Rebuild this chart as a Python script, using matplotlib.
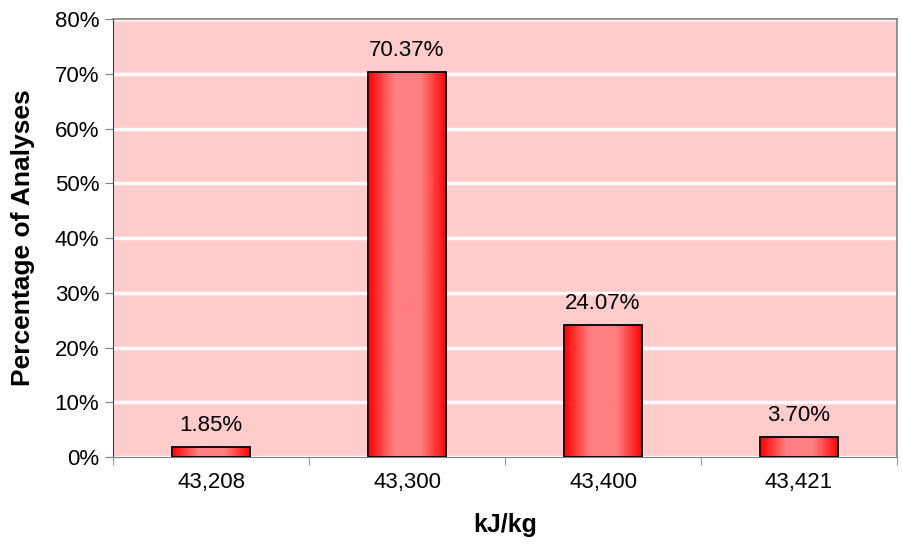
import matplotlib.pyplot as plt
import numpy as np
from matplotlib.colors import LinearSegmentedColormap
from matplotlib.patches import Rectangle

plt.rcParams['font.family'] = ['Liberation Sans', 'DejaVu Sans']

# data
categories = ["43,208", "43,300", "43,400", "43,421"]
values = [1.85, 70.37, 24.07, 3.70]
y_ticks = [0, 10, 20, 30, 40, 50, 60, 70, 80]

fig = plt.figure(figsize=(9.02, 5.46), dpi=100)
ax = fig.add_axes([0.1253, 0.163, 0.8692, 0.8022])
ax.set_facecolor('#ffcccc')

x = np.arange(len(categories))
bar_w = 0.4

# gradient: red - light pink - red
cmap = LinearSegmentedColormap.from_list('barg', ['#ff0000', '#ff8080', '#ff8080', '#ff0000'])
grad = np.linspace(0, 1, 256).reshape(1, -1)

bars = ax.bar(x, values, width=bar_w, color='none', edgecolor='black', linewidth=1.3, zorder=3)
for b, v in zip(bars, values):
    x0, w, h = b.get_x(), b.get_width(), b.get_height()
    im = ax.imshow(grad, cmap=cmap, aspect='auto', extent=[x0, x0 + w, 0, h],
                   zorder=2, interpolation='bicubic')
    im.set_clip_path(Rectangle((x0, 0), w, h, transform=ax.transData))
    ax.text(b.get_x() + w / 2, h + 2.0, f"{v:.2f}%", ha='center', va='bottom',
            fontsize=16, zorder=4)

ax.set_xlim(-0.5, len(categories) - 0.5)
ax.set_ylim(0, 80)

ax.set_yticks(y_ticks)
ax.set_yticklabels([f"{t}%" for t in y_ticks], fontsize=16)
ax.yaxis.grid(True, color='white', linewidth=2.5, zorder=1)
ax.set_axisbelow(True)

ax.set_xticks(x)
ax.set_xticklabels(categories, fontsize=16)
ax.tick_params(axis='x', length=0, pad=11)
ax.set_xticks(np.arange(-0.5, len(categories) + 0.5, 1), minor=True)
ax.tick_params(axis='x', which='minor', length=6, color='#808080')
ax.tick_params(axis='y', length=6, color='#808080', pad=4)

for s in ['top', 'right']:
    ax.spines[s].set_color('#808080')
    ax.spines[s].set_linewidth(1.2)
ax.spines['left'].set_color('#404040')
ax.spines['bottom'].set_color('#808080')

ax.set_xlabel('kJ/kg', fontsize=18, fontweight='bold', labelpad=14)
ax.set_ylabel('Percentage of Analyses', fontsize=19, fontweight='bold', labelpad=14)

fig.savefig('out.png', dpi=100)
